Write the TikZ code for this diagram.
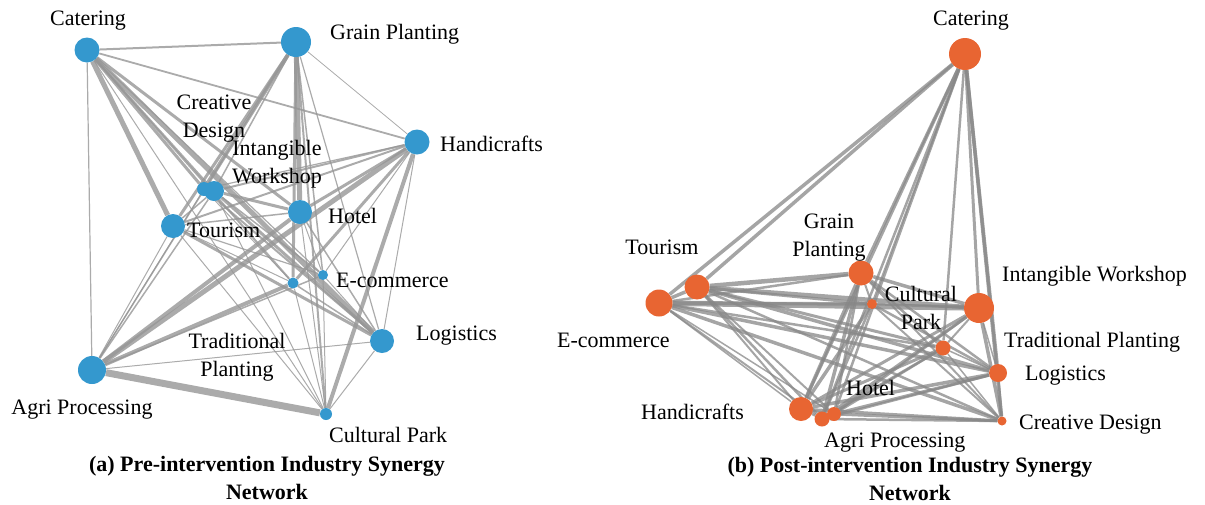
\documentclass[tikz,border=0pt]{standalone}
\usepackage{fontspec}
\setmainfont{Liberation Serif}
\usepackage{tikz}
\usetikzlibrary{positioning}
\usetikzlibrary{backgrounds}

\definecolor{preblue}{RGB}{52,152,206}
\definecolor{postorange}{RGB}{232,101,50}
\definecolor{linkgray}{RGB}{150,150,150}
\definecolor{linkdark}{RGB}{135,135,135}

\tikzset{
	industry/.style={circle, inner sep=0pt, minimum size=#1},
	preind/.style={industry=#1, fill=preblue},
	postind/.style={industry=#1, fill=postorange},
	indlabel/.style={inner sep=0pt, align=center, font=\fontsize{22}{28}\selectfont},
	subcap/.style={inner sep=0pt, align=center, font=\fontsize{22}{28}\selectfont\bfseries},
	synlink/.style={draw=linkgray, draw opacity=0.8, line width=#1},
	postlink/.style={draw=linkdark, draw opacity=0.75, line width=#1}
}

\begin{document}
\begin{tikzpicture}[x=1pt, y=-1pt]
		\useasboundingbox (0,0) rectangle (1205,504);

		%(a) nodes before intervention
		\node[preind=25pt] (aCat) at (87,50)   {};
		\node[preind=30pt] (aGP)  at (296,42)  {};
		\node[preind=25pt] (aHan) at (417,142) {};
		\node[preind=14pt] (aCD)  at (204,189) {};
		\node[preind=20pt] (aIW)  at (214,191) {};
		\node[preind=24pt] (aHot) at (300,212) {};
		\node[preind=24pt] (aTou) at (173,226) {};
		\node[preind=10pt] (aEc)  at (323,275) {};
		\node[preind=11pt] (aTP)  at (293,283) {};
		\node[preind=24pt] (aLog) at (382,341) {};
		\node[preind=28pt] (aAP)  at (92,370)  {};
		\node[preind=12pt] (aCP)  at (326,414) {};

		%(a) labels
		\node[indlabel] (aCatT) at (88,21) {Catering};
		\node[indlabel, anchor=west] (aGPT) at (330,34) {Grain Planting};
		\node[indlabel] (aCDT) at (214,119) {Creative\\Design};
		\node[indlabel] (aIWT) at (277,164) {Intangible\\Workshop};
		\node[indlabel, anchor=west] (aHanT) at (440,144) {Handicrafts};
		\node[indlabel, anchor=west] (aHotT) at (328,216) {Hotel};
		\node[indlabel, anchor=west] (aTouT) at (187,230) {Tourism};
		\node[indlabel, anchor=west] (aEcT) at (336,280) {E-commerce};
		\node[indlabel, anchor=west] (aLogT) at (416,336) {Logistics};
		\node[indlabel] (aTPT) at (237,357) {Traditional\\Planting};
		\node[indlabel] (aAPT) at (82,410) {Agri Processing};
		\node[indlabel, anchor=west] (aCPT) at (329,435) {Cultural Park};
		\node[subcap] (aCap) at (267,478) {(a) Pre-intervention Industry Synergy\\Network};

		%(b) nodes after intervention
		\node[postind=32pt] (bCat) at (965,54)  {};
		\node[postind=25pt] (bTou) at (697,287) {};
		\node[postind=27pt] (bEc)  at (659,303) {};
		\node[postind=25pt] (bGP)  at (861,273) {};
		\node[postind=10pt] (bCP)  at (872,304) {};
		\node[postind=30pt] (bIW)  at (979,308) {};
		\node[postind=15pt] (bTP)  at (943,348) {};
		\node[postind=18pt] (bLog) at (998,373) {};
		\node[postind=24pt] (bHan) at (801,409) {};
		\node[postind=15pt] (bAP)  at (822,419) {};
		\node[postind=14pt] (bHot) at (834,414) {};
		\node[postind=9pt]  (bCD)  at (1002,421) {};

		%(b) labels
		\node[indlabel] (bCatT) at (971,21) {Catering};
		\node[indlabel] (bTouT) at (662,247) {Tourism};
		\node[indlabel] (bGPT) at (829,238) {Grain\\Planting};
		\node[indlabel] (bCPT) at (921,308) {Cultural\\Park};
		\node[indlabel, anchor=west] (bIWT) at (1002,276) {Intangible Workshop};
		\node[indlabel, anchor=west] (bEcT) at (557,340) {E-commerce};
		\node[indlabel, anchor=west] (bTPT) at (1004,342) {Traditional Planting};
		\node[indlabel, anchor=west] (bLogT) at (1025,376) {Logistics};
		\node[indlabel, anchor=west] (bHotT) at (846,388) {Hotel};
		\node[indlabel, anchor=west] (bHanT) at (641,412) {Handicrafts};
		\node[indlabel, anchor=west] (bCDT) at (1019,425) {Creative Design};
		\node[indlabel, anchor=west] (bAPT) at (824,443) {Agri Processing};
		\node[subcap] (bCap) at (910,479) {(b) Post-intervention Industry Synergy\\Network};

		%links, under the nodes
		\begin{scope}[on background layer]
		\foreach \u/\v/\w in {aCat/aGP/2, aCat/aHan/1.8, aCat/aAP/1.2, aCat/aTou/5, aCat/aCD/3,
			aCat/aIW/2, aCat/aHot/3, aCat/aLog/5, aCat/aEc/1.2, aCat/aTP/2, aCat/aCP/1,
			aGP/aHan/0.8, aGP/aCD/4, aGP/aTou/3, aGP/aAP/1.5, aGP/aHot/5, aGP/aTP/3,
			aGP/aEc/1.5, aGP/aCP/2, aGP/aLog/1.2, aGP/aIW/1.5,
			aHan/aIW/2, aHan/aCD/1.2, aHan/aTou/2, aHan/aHot/3, aHan/aAP/5, aHan/aTP/3,
			aHan/aEc/1, aHan/aCP/4, aHan/aLog/1,
			aAP/aCP/7, aAP/aLog/1, aAP/aHot/4, aAP/aTP/4, aAP/aEc/1.5, aAP/aIW/1.5,
			aAP/aTou/1, aAP/aCD/1,
			aTou/aLog/3, aTou/aHot/1.5, aTou/aEc/1.2, aTou/aCP/1, aTou/aIW/1.5, aTou/aTP/1,
			aIW/aLog/3, aIW/aHot/3, aIW/aEc/1.5, aIW/aCP/1, aCD/aLog/2, aCD/aTP/1,
			aHot/aLog/1.5, aHot/aCP/1, aHot/aEc/1, aEc/aLog/1, aTP/aLog/1.5, aTP/aCP/1,
			aEc/aCP/1, aLog/aCP/1}
			\draw[synlink=\w pt] (\u) -- (\v);

		\foreach \u/\v/\w in {bCat/bTou/3.5, bCat/bEc/3.5, bCat/bGP/3, bCat/bHan/3, bCat/bAP/2.5,
			bCat/bHot/2.5, bCat/bTP/2.5, bCat/bIW/3, bCat/bLog/3.5, bCat/bCD/3.5, bCat/bCP/2,
			bTou/bEc/3.5, bTou/bGP/4.5, bTou/bIW/4.5, bTou/bCP/3, bTou/bTP/3, bTou/bLog/3.5,
			bTou/bCD/2.5, bTou/bHan/2, bTou/bAP/2.5, bTou/bHot/2,
			bEc/bGP/2.5, bEc/bIW/5.5, bEc/bCP/3.5, bEc/bTP/2.5, bEc/bLog/3.5, bEc/bCD/3.5,
			bEc/bHan/1.5, bEc/bAP/2, bEc/bHot/1.5,
			bGP/bHan/3.5, bGP/bAP/3.5, bGP/bHot/2.5, bGP/bIW/3.5, bGP/bTP/2.5, bGP/bLog/2.5,
			bGP/bCD/2, bGP/bCP/2,
			bCP/bHan/3.5, bCP/bAP/2.5, bCP/bIW/2.5, bCP/bLog/2.5, bCP/bCD/2,
			bIW/bHan/3, bIW/bAP/3, bIW/bHot/2.5, bIW/bTP/2, bIW/bLog/1.5, bIW/bCD/3.5,
			bTP/bHan/3, bTP/bAP/2.5, bTP/bHot/2.5, bTP/bLog/1.5, bTP/bCD/1.5,
			bLog/bHan/3.5, bLog/bAP/2.5, bLog/bHot/3, bLog/bCD/2.5,
			bHan/bCD/3, bAP/bCD/2.5, bHot/bCD/3, bHan/bAP/2, bHan/bHot/2, bAP/bHot/1.5}
			\draw[postlink=\w pt] (\u) -- (\v);
		\end{scope}
\end{tikzpicture}
\end{document}
